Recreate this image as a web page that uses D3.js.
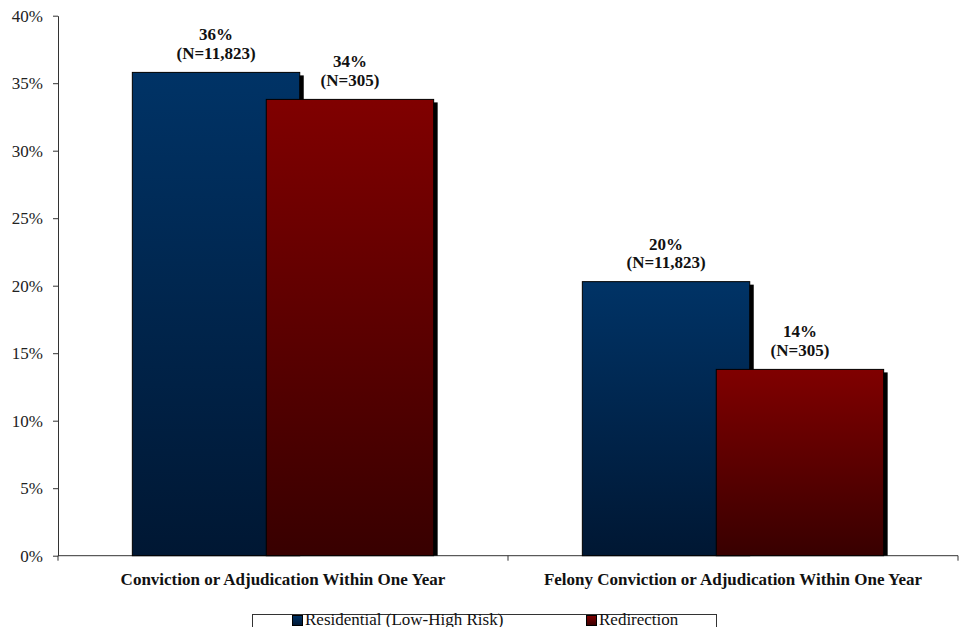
<!DOCTYPE html>
<html>
<head>
<meta charset="utf-8">
<script src="https://cdn.jsdelivr.net/npm/d3@7"></script>
<style>
  body { margin: 0; background: #fff; }
</style>
</head>
<body>
<svg id="grafico"></svg>
<script>
// dados do gráfico
const categorias = ['Conviction or Adjudication Within One Year', 'Felony Conviction or Adjudication Within One Year'];
const series = ['Residential (Low-High Risk)', 'Redirection'];
const residencial = [35.8, 20.3];
const redirecionamento = [33.8, 13.8];
const rotulosResidencial = ['36%', '20%'];
const rotulosRedirecionamento = ['34%', '14%'];
const nResidencial = ['(N=11,823)', '(N=11,823)'];
const nRedirecionamento = ['(N=305)', '(N=305)'];
const ticks = [0, 5, 10, 15, 20, 25, 30, 35, 40];

const fonte = '"Liberation Serif", "DejaVu Serif", serif';
const tamanho = '17px';
const largura = 960, altura = 627;
const svg = d3.select('#grafico').attr('width', largura).attr('height', altura)
  .style('font-family', fonte);

const margem = { esq: 58, dir: 2, topo: 15.7, base: 71.3 };

// gradientes das barras
const defs = svg.append('defs');
function gradiente(id, topo, base) {
  const g = defs.append('linearGradient').attr('id', id)
    .attr('x1', 0).attr('y1', 0).attr('x2', 0).attr('y2', 1);
  g.append('stop').attr('offset', '0%').attr('stop-color', topo);
  g.append('stop').attr('offset', '100%').attr('stop-color', base);
}
gradiente('gradAzul', '#003366', '#001733');
gradiente('gradVermelho', '#800000', '#380000');
const cores = ['url(#gradAzul)', 'url(#gradVermelho)'];

const fnX = d3.scaleBand()
  .domain(categorias)
  .range([margem.esq, largura - margem.dir]);

const fnY = d3.scaleLinear()
  .domain([0, 40])
  .range([altura - margem.base, margem.topo]);

// eixo y
const eixoY = svg.append('g')
  .attr('transform', `translate(${margem.esq},0)`)
  .call(d3.axisLeft(fnY).tickValues(ticks).tickFormat(d => d + '%').tickSize(5).tickSizeOuter(0));
eixoY.attr('font-family', null);
eixoY.select('.domain').attr('stroke', '#333');
eixoY.selectAll('.tick line').attr('stroke', '#333');
eixoY.selectAll('.tick text').style('font-size', tamanho).style('font-family', fonte)
  .attr('fill', '#222').attr('x', -15);

// eixo x
const eixoX = svg.append('g')
  .attr('transform', `translate(0,${fnY(0)})`);
eixoX.append('line')
  .attr('x1', margem.esq).attr('x2', largura - margem.dir)
  .attr('stroke', '#333');
const limites = [margem.esq, ...categorias.map(c => fnX(c) + fnX.bandwidth())];
eixoX.selectAll('.divisor').data(limites).enter().append('line')
  .attr('x1', d => d).attr('x2', d => d).attr('y1', 0).attr('y2', 5)
  .attr('stroke', '#333');
eixoX.selectAll('.categoria').data(categorias).enter().append('text')
  .attr('x', d => fnX(d) + fnX.bandwidth() / 2)
  .attr('y', 29)
  .attr('text-anchor', 'middle')
  .style('font-size', tamanho).style('font-family', fonte)
  .attr('font-weight', 'bold').attr('fill', '#111')
  .text(d => d);

// barras
const larguraBarra = fnX.bandwidth() * 0.372;
const passo = larguraBarra * 0.8;
const valores = [residencial, redirecionamento];
const rotulos = [rotulosResidencial, rotulosRedirecionamento];
const ns = [nResidencial, nRedirecionamento];

function xBarra(c, s) {
  const centro = fnX(c) + fnX.bandwidth() / 2;
  const total = larguraBarra + passo;
  return centro - total / 2 + s * passo;
}

series.forEach((serie, s) => {
  const dados = categorias.map((c, i) => ({ c, v: valores[s][i], r: rotulos[s][i], n: ns[s][i] }));
  const g = svg.append('g');
  // sombra
  g.selectAll('.sombra').data(dados).enter().append('rect')
    .attr('x', d => xBarra(d.c, s) + 4)
    .attr('y', d => fnY(d.v) + 3)
    .attr('width', larguraBarra)
    .attr('height', d => fnY(0) - fnY(d.v) - 3)
    .attr('fill', '#000');
  g.selectAll('.barra').data(dados).enter().append('rect')
    .attr('x', d => xBarra(d.c, s))
    .attr('y', d => fnY(d.v))
    .attr('width', larguraBarra)
    .attr('height', d => fnY(0) - fnY(d.v))
    .attr('fill', cores[s])
    .attr('stroke', '#000').attr('stroke-width', 1);
  g.selectAll('.rotulo').data(dados).enter().append('text')
    .attr('x', d => xBarra(d.c, s) + larguraBarra / 2)
    .attr('y', d => fnY(d.v) - 32)
    .attr('text-anchor', 'middle')
    .style('font-size', tamanho).style('font-family', fonte)
    .attr('font-weight', 'bold').attr('fill', '#111')
    .text(d => d.r);
  g.selectAll('.rotuloN').data(dados).enter().append('text')
    .attr('x', d => xBarra(d.c, s) + larguraBarra / 2)
    .attr('y', d => fnY(d.v) - 13.5)
    .attr('text-anchor', 'middle')
    .style('font-size', tamanho).style('font-family', fonte)
    .attr('font-weight', 'bold').attr('fill', '#111')
    .text(d => d.n);
});

// legenda
const legenda = svg.append('g');
legenda.append('rect')
  .attr('x', 252.5).attr('y', 614.5).attr('width', 464).attr('height', 30)
  .attr('fill', '#fff').attr('stroke', '#333');
const posLegenda = [292, 586];
series.forEach((serie, s) => {
  legenda.append('rect')
    .attr('x', posLegenda[s] + 0.5).attr('y', 615.5).attr('width', 10).attr('height', 10)
    .attr('fill', cores[s]).attr('stroke', '#000');
  legenda.append('text')
    .attr('x', posLegenda[s] + 13).attr('y', 625)
    .style('font-size', tamanho).style('font-family', fonte)
    .attr('fill', '#111')
    .text(serie);
});
</script>
</body>
</html>
